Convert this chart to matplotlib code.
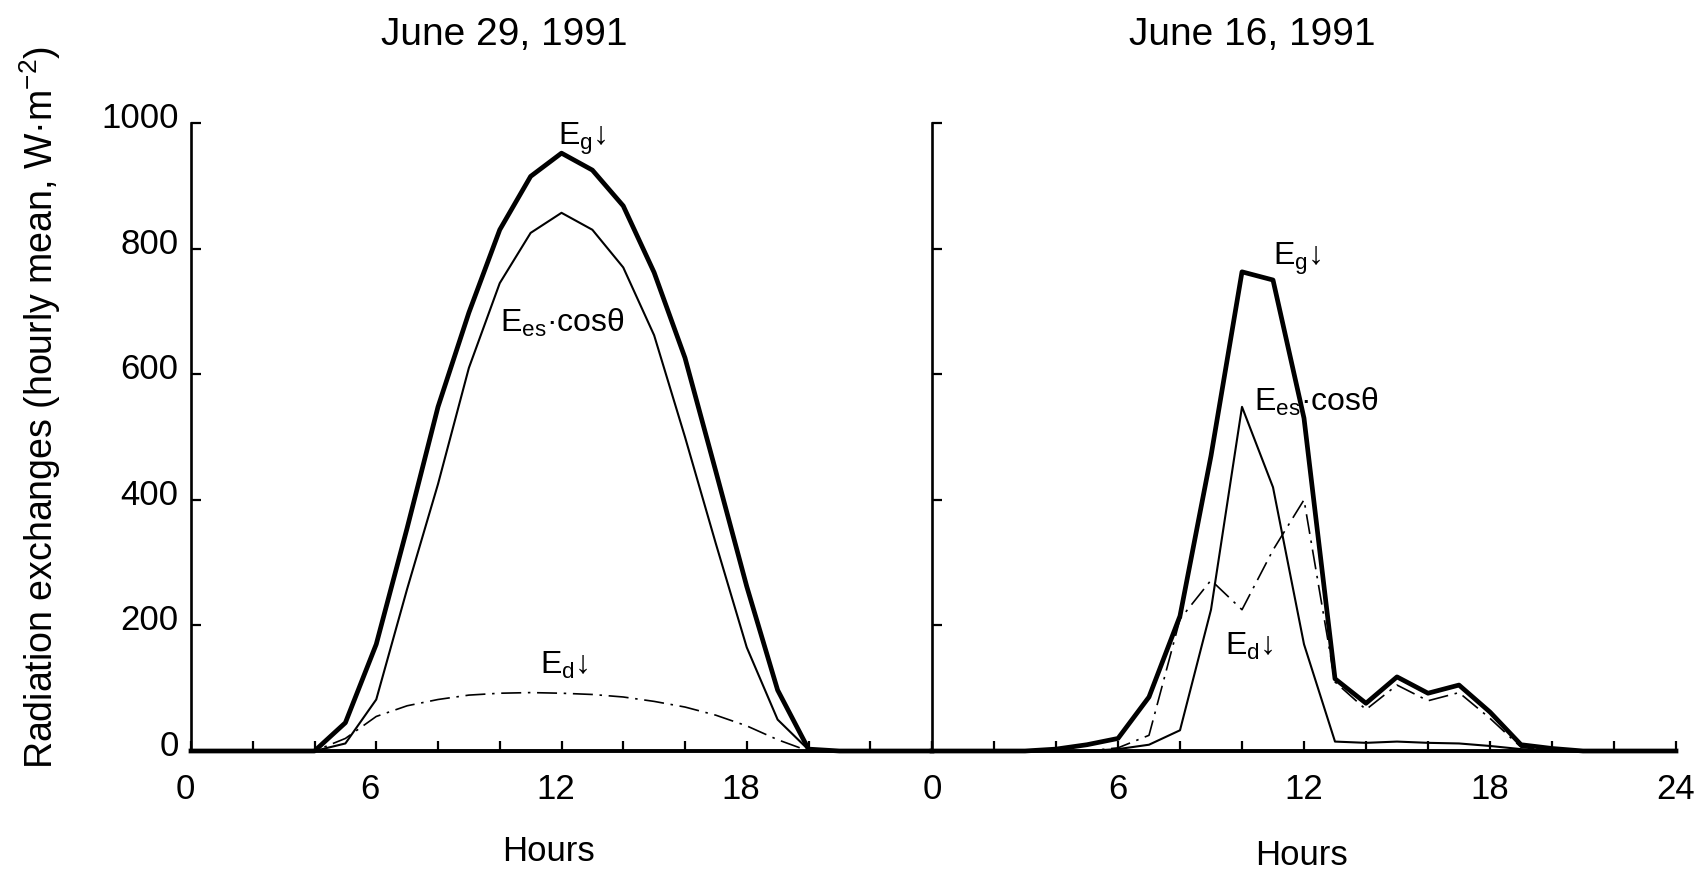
import matplotlib
matplotlib.use("Agg")
import matplotlib.pyplot as plt
from matplotlib.ticker import MultipleLocator, FixedLocator
import matplotlib.transforms as mtransforms

plt.rcParams['font.family'] = ['Liberation Sans', 'DejaVu Sans']
plt.rcParams['mathtext.fontset'] = 'custom'
plt.rcParams['mathtext.rm'] = 'Liberation Sans'
plt.rcParams['mathtext.it'] = 'Liberation Sans'

# ---------------- data ----------------
hours = list(range(25))

# June 29, 1991 (clear day)
eg_jun29 = [0, 0, 0, 0, 0, 45, 170, 355, 548, 698, 830, 915, 952, 925, 868,
            762, 626, 445, 262, 97, 3, 0, 0, 0, 0]
ees_jun29 = [0, 0, 0, 0, 0, 12, 82, 258, 425, 610, 745, 825, 857, 830, 770,
             662, 500, 330, 165, 50, 2, 0, 0, 0, 0]
ed_jun29 = [0, 0, 0, 0, 0, 20, 55, 72, 82, 89, 92, 93, 92, 90, 86,
            79, 70, 57, 40, 18, 0, 0, 0, 0, 0]

# June 16, 1991 (cloudy day)
eg_jun16 = [0, 0, 0, 0, 3, 10, 20, 86, 215, 470, 763, 750, 530, 115, 76,
            118, 92, 105, 62, 10, 4, 0, 0, 0, 0]
ees_jun16 = [0, 0, 0, 0, 0, 0, 3, 10, 33, 225, 548, 420, 170, 15, 13,
             15, 13, 12, 8, 3, 0, 0, 0, 0, 0]
ed_jun16 = [0, 0, 0, 0, 0, 0, 5, 25, 210, 272, 225, 320, 400, 110, 66,
            105, 80, 93, 52, 6, 0, 0, 0, 0, 0]

titles = ["June 29, 1991", "June 16, 1991"]
y_ticks = [0, 200, 400, 600, 800, 1000]
x_major_left = [0, 6, 12, 18]
x_major_right = [0, 6, 12, 18, 24]
y_label = "Radiation exchanges (hourly mean, W\u00b7m$^{-2}$)"
x_label = "Hours"
lab_eg = "E$_\\mathregular{g}$\u2193"
lab_ees = "E$_\\mathregular{es}$\u00b7cos\u03b8"
lab_ed = "E$_\\mathregular{d}$\u2193"

# ---------------- figure ----------------
W, H = 1701, 869
fig = plt.figure(figsize=(W / 100, H / 100), dpi=100)
axL = fig.add_axes([191 / W, 118 / H, 741 / W, 628 / H])
axR = fig.add_axes([932 / W, 118 / H, 744 / W, 628 / H])


def style(ax, major):
    ax.set_xlim(0, 24)
    ax.set_ylim(0, 1000)
    for s in ['top', 'right']:
        ax.spines[s].set_visible(False)
    ax.spines['bottom'].set_linewidth(2.8)
    ax.spines['left'].set_linewidth(1.9)
    ax.set_yticks(y_ticks)
    ax.xaxis.set_major_locator(FixedLocator(major))
    ax.xaxis.set_minor_locator(MultipleLocator(2))
    ax.tick_params(axis='both', which='both', direction='in', width=1.6,
                   color='black')
    ax.tick_params(axis='x', which='both', length=7.5, pad=16, labelsize=25)
    ax.tick_params(axis='y', length=7.5, pad=9, labelsize=25)


style(axL, x_major_left)
style(axR, x_major_right)
axR.tick_params(axis='y', labelleft=False)

# nudge tick labels like the scanned original
up = mtransforms.ScaledTranslation(0, 8 / 100, fig.dpi_scale_trans)
for lbl in axL.get_yticklabels():
    lbl.set_transform(lbl.get_transform() + up)
left_shift = mtransforms.ScaledTranslation(-6 / 100, 0, fig.dpi_scale_trans)
for lbl in axL.get_xticklabels():
    lbl.set_transform(lbl.get_transform() + left_shift)

dashdot = (0, (12, 4, 1.5, 4))
for ax, eg, ees, ed in [(axL, eg_jun29, ees_jun29, ed_jun29),
                        (axR, eg_jun16, ees_jun16, ed_jun16)]:
    ax.plot(hours, ed, color='black', lw=1.2, linestyle=dashdot,
            clip_on=False, zorder=3)
    ax.plot(hours, ees, color='black', lw=1.5, clip_on=False, zorder=3)
    ax.plot(hours, eg, color='black', lw=3.4, clip_on=False, zorder=4)

# curve labels
axL.text(11.9, 975, lab_eg, fontsize=23, ha='left', va='center')
axL.text(10.0, 681, lab_ees, fontsize=23, ha='left', va='center')
axL.text(11.3, 137, lab_ed, fontsize=23, ha='left', va='center')
axR.text(11.0, 783, lab_eg, fontsize=23, ha='left', va='center')
axR.text(10.4, 556, lab_ees, fontsize=23, ha='left', va='center')
axR.text(9.46, 166, lab_ed, fontsize=23, ha='left', va='center')

# titles
axL.text(0.4224, 1.14, titles[0], transform=axL.transAxes, fontsize=28,
         ha='center', va='center')
axR.text(0.430, 1.14, titles[1], transform=axR.transAxes, fontsize=28,
         ha='center', va='center')

# axis labels
axL.set_xlabel(x_label, fontsize=25)
axL.xaxis.set_label_coords(0.482, -0.134)
axR.set_xlabel(x_label, fontsize=25)
axR.xaxis.set_label_coords(0.497, -0.140)
axL.set_ylabel(y_label, fontsize=27, va='center')
axL.yaxis.set_label_coords(-0.204, 0.547)

fig.savefig("out.png", dpi=100)
